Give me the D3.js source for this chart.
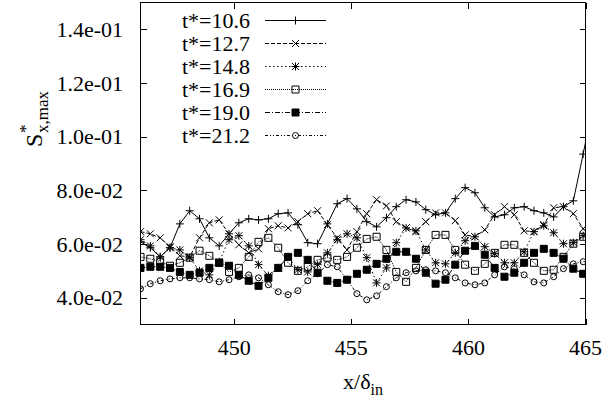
<!DOCTYPE html>
<html>
<head>
<meta charset="utf-8">
<script src="https://cdn.jsdelivr.net/npm/d3@7"></script>
<style>
  body { margin: 0; background: #fff; }
  svg { display: block; }
</style>
</head>
<body>
<div id="chart"></div>
<script>
// streamwise positions x/delta_in (last one falls just outside the frame)
var xPos = [446.00, 446.42, 446.84, 447.26, 447.68, 448.10, 448.52, 448.94, 449.36, 449.78,
  450.20, 450.62, 451.04, 451.46, 451.88, 452.30, 452.72, 453.14, 453.56, 453.98,
  454.40, 454.82, 455.24, 455.66, 456.08, 456.50, 456.92, 457.34, 457.76, 458.18,
  458.60, 459.02, 459.44, 459.86, 460.28, 460.70, 461.12, 461.54, 461.96, 462.38,
  462.80, 463.22, 463.64, 464.06, 464.48, 464.90, 465.32]

var seriesNames = ['t*=10.6', 't*=12.7', 't*=14.8', 't*=16.9', 't*=19.0', 't*=21.2']

var s106 = [0.0608, 0.0586, 0.0552, 0.0586, 0.0675, 0.0724, 0.0694, 0.0623, 0.0593, 0.0638,
  0.0679, 0.0694, 0.0690, 0.0694, 0.0713, 0.0716, 0.0672, 0.0605, 0.0601, 0.0675,
  0.0750, 0.0769, 0.0731, 0.0683, 0.0664, 0.0698, 0.0739, 0.0765, 0.0757, 0.0728,
  0.0709, 0.0716, 0.0769, 0.0810, 0.0791, 0.0735, 0.0701, 0.0709, 0.0735, 0.0739,
  0.0724, 0.0716, 0.0701, 0.0739, 0.0761, 0.0935, 0.1120]
var s127 = [0.0646, 0.0638, 0.0623, 0.0590, 0.0556, 0.0552, 0.0623, 0.0679, 0.0690, 0.0638,
  0.0597, 0.0567, 0.0582, 0.0657, 0.0668, 0.0660, 0.0683, 0.0713, 0.0724, 0.0672,
  0.0623, 0.0578, 0.0646, 0.0713, 0.0765, 0.0742, 0.0683, 0.0660, 0.0646, 0.0683,
  0.0716, 0.0716, 0.0687, 0.0634, 0.0627, 0.0653, 0.0709, 0.0739, 0.0709, 0.0649,
  0.0646, 0.0672, 0.0735, 0.0739, 0.0713, 0.0657, 0.0616]
var s148 = [0.0616, 0.0593, 0.0552, 0.0586, 0.0578, 0.0549, 0.0500, 0.0485, 0.0534, 0.0616,
  0.0631, 0.0593, 0.0523, 0.0482, 0.0511, 0.0552, 0.0504, 0.0496, 0.0523, 0.0567,
  0.0616, 0.0638, 0.0623, 0.0549, 0.0455, 0.0511, 0.0605, 0.0660, 0.0649, 0.0578,
  0.0530, 0.0526, 0.0567, 0.0612, 0.0627, 0.0590, 0.0564, 0.0530, 0.0530, 0.0571,
  0.0646, 0.0668, 0.0642, 0.0601, 0.0605, 0.0631, 0.0646]
var s169 = [0.0552, 0.0545, 0.0534, 0.0519, 0.0530, 0.0549, 0.0575, 0.0556, 0.0530, 0.0496,
  0.0511, 0.0552, 0.0608, 0.0623, 0.0586, 0.0530, 0.0500, 0.0515, 0.0541, 0.0549,
  0.0541, 0.0552, 0.0586, 0.0619, 0.0627, 0.0578, 0.0496, 0.0459, 0.0511, 0.0578,
  0.0634, 0.0634, 0.0578, 0.0523, 0.0500, 0.0526, 0.0567, 0.0597, 0.0597, 0.0567,
  0.0530, 0.0500, 0.0504, 0.0552, 0.0601, 0.0627, 0.0638]
var s190 = [0.0511, 0.0515, 0.0515, 0.0511, 0.0496, 0.0485, 0.0493, 0.0511, 0.0530, 0.0519,
  0.0485, 0.0463, 0.0444, 0.0474, 0.0511, 0.0552, 0.0567, 0.0541, 0.0493, 0.0463,
  0.0455, 0.0467, 0.0489, 0.0504, 0.0526, 0.0545, 0.0571, 0.0571, 0.0545, 0.0493,
  0.0452, 0.0467, 0.0523, 0.0575, 0.0593, 0.0560, 0.0511, 0.0478, 0.0493, 0.0530,
  0.0567, 0.0582, 0.0567, 0.0545, 0.0508, 0.0489, 0.0482]
var s212 = [0.0433, 0.0452, 0.0463, 0.0470, 0.0474, 0.0474, 0.0470, 0.0467, 0.0459, 0.0467,
  0.0478, 0.0485, 0.0474, 0.0448, 0.0422, 0.0411, 0.0426, 0.0463, 0.0489, 0.0523,
  0.0515, 0.0467, 0.0415, 0.0392, 0.0407, 0.0441, 0.0474, 0.0493, 0.0500, 0.0504,
  0.0500, 0.0493, 0.0474, 0.0455, 0.0448, 0.0455, 0.0485, 0.0515, 0.0508, 0.0485,
  0.0459, 0.0455, 0.0478, 0.0508, 0.0526, 0.0534, 0.0534]

var xTicks = [450, 455, 460, 465]
var xTickLabels = ['450', '455', '460', '465']
var yTicks = [0.04, 0.06, 0.08, 0.10, 0.12, 0.14]
var yTickLabels = ['4.0e-02', '6.0e-02', '8.0e-02', '1.0e-01', '1.2e-01', '1.4e-01']

var allSeries = [s106, s127, s148, s169, s190, s212]
var dashes = [null, '4,2', '1.5,2.5', '1,1', '5,2,1,2', '3,2,1,2,1,2']
var markerTypes = ['plus', 'cross', 'star', 'box', 'fbox', 'circle']

;(function () {
  var width = 607, height = 397
  var pLeft = 140.5, pRight = 585.5, pTop = 2.5, pBottom = 324.5
  var serif = "'Liberation Serif', 'Times New Roman', 'DejaVu Serif', serif"

  var x = d3.scaleLinear().domain([446, 465]).range([pLeft, pRight])
  var y = d3.scaleLinear().domain([0.03, 0.15]).range([pBottom, pTop])

  var svg = d3.select('#chart').append('svg')
    .attr('width', width)
    .attr('height', height)
    .attr('font-family', serif)

  svg.append('rect').attr('width', width).attr('height', height).attr('fill', '#fff')

  svg.append('clipPath').attr('id', 'clip')
    .append('rect')
    .attr('x', pLeft).attr('y', pTop)
    .attr('width', pRight - pLeft).attr('height', pBottom - pTop)

  // gnuplot-like point symbols
  var markerPath = (type, px, py) => {
    var p = 'M' + (px - 4) + ',' + py + 'H' + (px + 4) + 'M' + px + ',' + (py - 4) + 'V' + (py + 4)
    var c = 'M' + (px - 3.5) + ',' + (py - 3.5) + 'L' + (px + 3.5) + ',' + (py + 3.5) +
      'M' + (px - 3.5) + ',' + (py + 3.5) + 'L' + (px + 3.5) + ',' + (py - 3.5)
    if (type === 'plus') return p
    if (type === 'cross') return c
    if (type === 'star') return p + c
    if (type === 'box' || type === 'fbox') {
      return 'M' + (px - 3.5) + ',' + (py - 3.5) + 'h7v7h-7Z'
    }
    return 'M' + (px + 3) + ',' + py + 'A3,3 0 1,1 ' + (px - 3) + ',' + py + 'A3,3 0 1,1 ' + (px + 3) + ',' + py
  }

  var addMarker = (g, type, px, py) => {
    g.append('path')
      .attr('d', markerPath(type, px, py))
      .attr('fill', type === 'fbox' ? '#000' : 'none')
      .attr('stroke', '#000')
      .attr('stroke-width', 1)
  }

  var plot = svg.append('g').attr('clip-path', 'url(#clip)')

  var line = d3.line()
    .x(d => x(d[0]))
    .y(d => y(d[1]))

  allSeries.forEach((vals, i) => {
    var pts = vals.map((v, j) => [xPos[j], v])
    plot.append('path')
      .datum(pts)
      .attr('fill', 'none')
      .attr('stroke', '#000')
      .attr('stroke-width', 1)
      .attr('stroke-dasharray', dashes[i])
      .attr('d', line)
    var mg = plot.append('g')
    pts.forEach(d => addMarker(mg, markerTypes[i], x(d[0]), y(d[1])))
  })

  // frame and ticks (mirrored on all sides)
  var axes = svg.append('g')
    .attr('stroke', '#000')
    .attr('stroke-width', 1)
    .attr('shape-rendering', 'crispEdges')

  axes.append('rect')
    .attr('x', pLeft).attr('y', pTop)
    .attr('width', pRight - pLeft).attr('height', pBottom - pTop)
    .attr('fill', 'none')

  xTicks.forEach(t => {
    var px = Math.round(x(t)) + 0.5
    axes.append('line').attr('x1', px).attr('x2', px).attr('y1', pBottom).attr('y2', pBottom - 6)
    axes.append('line').attr('x1', px).attr('x2', px).attr('y1', pTop).attr('y2', pTop + 6)
  })
  yTicks.forEach(t => {
    var py = Math.round(y(t)) + 0.5
    axes.append('line').attr('x1', pLeft).attr('x2', pLeft + 6).attr('y1', py).attr('y2', py)
    axes.append('line').attr('x1', pRight).attr('x2', pRight - 6).attr('y1', py).attr('y2', py)
  })

  svg.append('g')
    .selectAll('text')
    .data(xTicks)
    .enter()
    .append('text')
    .attr('x', d => x(d))
    .attr('y', 355)
    .attr('text-anchor', 'middle')
    .attr('font-size', 22)
    .text((d, i) => xTickLabels[i])

  svg.append('g')
    .selectAll('text')
    .data(yTicks)
    .enter()
    .append('text')
    .attr('x', 123)
    .attr('y', d => y(d))
    .attr('dy', '0.35em')
    .attr('text-anchor', 'end')
    .attr('font-size', 22)
    .text((d, i) => yTickLabels[i])

  // axis titles
  var xt = svg.append('text')
    .attr('x', 363)
    .attr('y', 389)
    .attr('text-anchor', 'middle')
    .attr('font-size', 22)
  xt.append('tspan').text('x/δ')
  xt.append('tspan').attr('font-size', 16).attr('dy', 6).text('in')

  var yt = svg.append('g').attr('transform', 'translate(42,147) rotate(-90)')
  yt.append('text').attr('x', 0).attr('y', 0).attr('font-size', 24).text('S')
  yt.append('text').attr('x', 14).attr('y', -11).attr('font-size', 17).text('*')
  yt.append('text').attr('x', 14).attr('y', 6).attr('font-size', 17).text('x,max')

  // legend
  var legend = svg.append('g')
  seriesNames.forEach((name, i) => {
    var ly = 20 + i * 23
    legend.append('text')
      .attr('x', 250)
      .attr('y', ly)
      .attr('dy', '0.35em')
      .attr('text-anchor', 'end')
      .attr('font-size', 22)
      .text(name)
    legend.append('line')
      .attr('x1', 265).attr('x2', 326)
      .attr('y1', ly + 0.5).attr('y2', ly + 0.5)
      .attr('stroke', '#000')
      .attr('stroke-dasharray', dashes[i])
    addMarker(legend, markerTypes[i], 295.5, ly + 0.5)
  })
})()
</script>
</body>
</html>
